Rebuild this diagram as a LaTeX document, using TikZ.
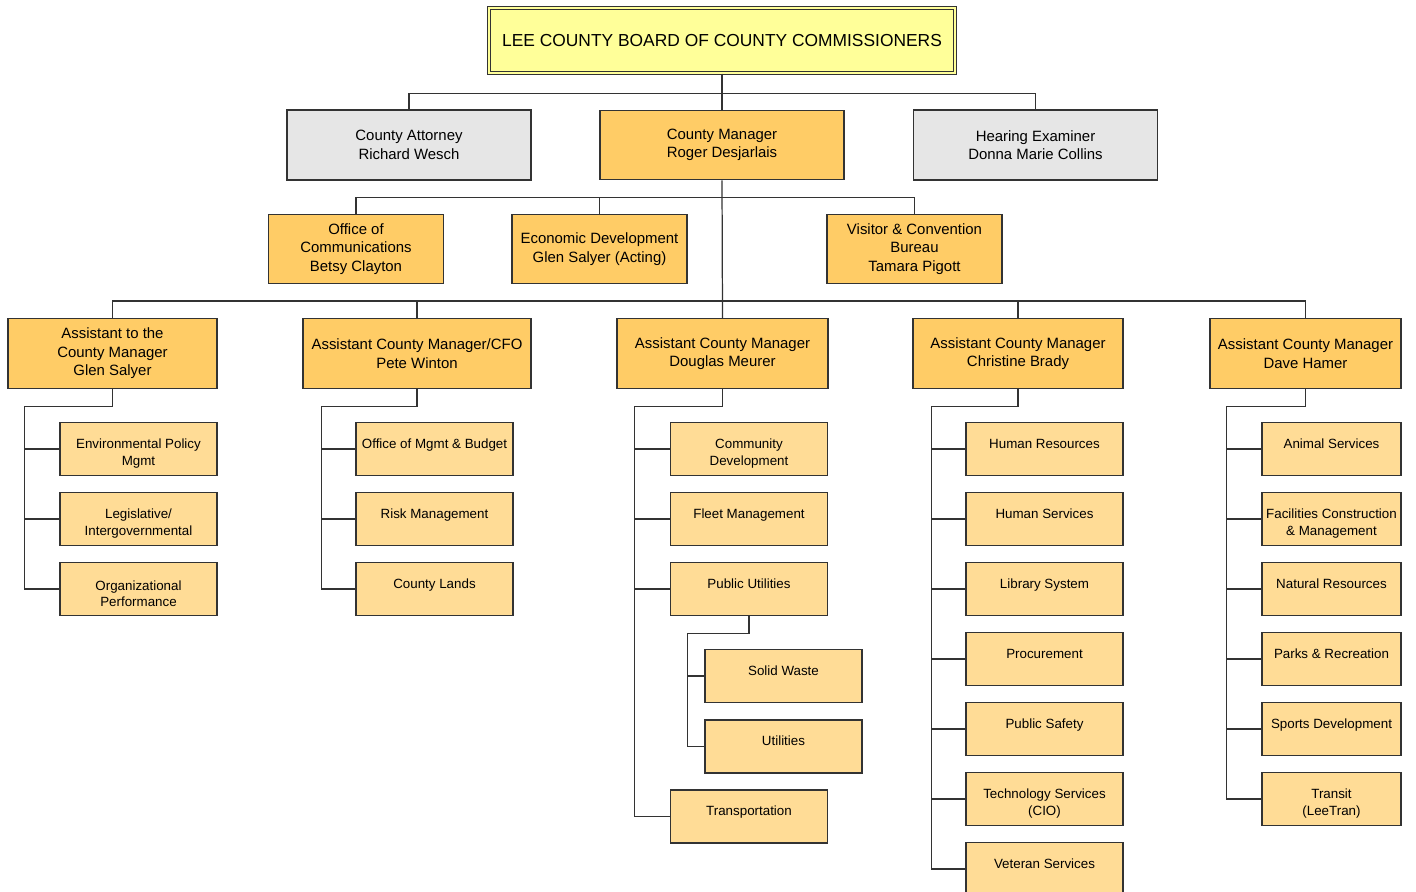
\documentclass[tikz,border=0pt]{standalone}
\usepackage{fontspec}
\setmainfont{Liberation Sans}
\definecolor{titlefill}{HTML}{FFFF99}
\definecolor{headfill}{HTML}{FFCC66}
\definecolor{unitfill}{HTML}{FFDC96}
\definecolor{stafffill}{HTML}{E6E6E6}
\definecolor{edgecol}{HTML}{333333}
\newcommand\dropline{\rule{0pt}{10.6pt}}
\begin{document}
\begin{tikzpicture}
[x=0.02cm,y=-0.02cm,
  boxdecorate/.style={shape=rectangle,draw=edgecol,line width=0.8pt,inner sep=1pt,align=center,font=\fontsize{8.5}{10.6}\selectfont},
  headdecorate/.style={boxdecorate,fill=headfill,minimum height=1.39cm},
  staffdecorate/.style={boxdecorate,fill=stafffill,minimum height=1.4cm,minimum width=4.88cm},
  unitdecorate/.style={boxdecorate,fill=unitfill,minimum height=1.06cm,minimum width=3.14cm,font=\fontsize{7.6}{9.2}\selectfont},
  linedecorate/.style={-,draw=edgecol,line width=0.7pt}]
\useasboundingbox (0,0) rectangle (1416,892);
%% board, staff and county manager
\node (board) at (722,40.5) [boxdecorate,fill=titlefill,line width=0.6pt,double=titlefill,double distance=1.4pt,minimum width=9.32cm,minimum height=1.3cm,font=\fontsize{9.9}{12}\selectfont] {LEE COUNTY BOARD OF COUNTY COMMISSIONERS};
\node (atty) at (409,145) [staffdecorate] {County Attorney\\Richard Wesch};
\node (mgr) at (722,145) [headdecorate,minimum width=4.88cm] {County Manager\\Roger Desjarlais};
\node (hear) at (1035.5,145) [staffdecorate] {Hearing Examiner\\Donna Marie Collins};
%% offices under the county manager
\foreach \nodename/\x/\txt in {comm/356/{Office of\\Communications\\Betsy Clayton},
  econ/599.5/{Economic Development\\Glen Salyer (Acting)},
  visit/914.5/{Visitor \& Convention\\Bureau\\Tamara Pigott}} {
  \node (\nodename) at (\x,249) [headdecorate,minimum width=3.5cm] {\txt};
}
%% assistant county managers
\foreach \nodename/\x/\w/\txt in {acm1/112.5/4.18/{Assistant to the\\County Manager\\Glen Salyer},
  acm2/417/4.56/{Assistant County Manager/CFO\\Pete Winton},
  acm3/722.5/4.22/{Assistant County Manager\\Douglas Meurer},
  acm4/1018/4.2/{Assistant County Manager\\Christine Brady},
  acm5/1305.5/3.82/{Assistant County Manager\\Dave Hamer}} {
  \node (\nodename) at (\x,353.5) [headdecorate,minimum width=\w cm] {\txt};
}
%% departments
\foreach \nodename/\x/\i/\txt in {env/138.5/0/{\dropline Environmental Policy\\Mgmt},
  leg/138.5/1/{\dropline Legislative/\\Intergovernmental},
  org/138.5/2/{\dropline Organizational\\Performance},
  omb/434.5/0/{Office of Mgmt \& Budget\\[-3pt]~},
  risk/434.5/1/{Risk Management\\[-3pt]~},
  lands/434.5/2/{County Lands\\[-3pt]~},
  comdev/749/0/{\dropline Community\\Development},
  fleet/749/1/{Fleet Management\\[-3pt]~},
  pub/749/2/{Public Utilities\\[-3pt]~},
  trans/749/5.25/{Transportation\\[-3pt]~},
  hr/1044.5/0/{Human Resources\\[-3pt]~},
  hs/1044.5/1/{Human Services\\[-3pt]~},
  lib/1044.5/2/{Library System\\[-3pt]~},
  proc/1044.5/3/{Procurement\\[-3pt]~},
  safe/1044.5/4/{Public Safety\\[-3pt]~},
  tech/1044.5/5/{\dropline Technology Services\\(CIO)},
  vet/1044.5/6/{Veteran Services\\[-3pt]~}} {
  \node (\nodename) at (\x,{449+70*\i}) [unitdecorate] {\txt};
}
\foreach \nodename/\i/\txt in {animal/0/{Animal Services\\[-3pt]~},
  fac/1/{\dropline Facilities Construction\\\& Management},
  natural/2/{Natural Resources\\[-3pt]~},
  parks/3/{Parks \& Recreation\\[-3pt]~},
  sports/4/{Sports Development\\[-3pt]~},
  transit/5/{\dropline Transit\\(LeeTran)}} {
  \node (\nodename) at (1331.5,{449+70*\i}) [unitdecorate,minimum width=2.78cm] {\txt};
}
\node (solid) at (783.5,676) [unitdecorate] {Solid Waste\\[-3pt]~};
\node (util) at (783.5,746.5) [unitdecorate] {Utilities\\[-3pt]~};
%% edges or lines
\draw [linedecorate] (board.south) -- (mgr.north);
\draw [linedecorate] (atty.north) -- ++(0,-16) -| (hear.north);
\draw [linedecorate] (mgr.south) -- (acm3.north);
\draw [linedecorate] (comm.north) -- ++(0,-16) -| (visit.north);
\draw [linedecorate] (econ.north) -- ++(0,-16);
\draw [linedecorate] (acm1.north) -- ++(0,-17) -| (acm5.north);
\foreach \nodename in {acm2,acm4} {
  \draw [linedecorate] (\nodename.north) -- ++(0,-17);
}
\foreach \parent/\last/\off in {acm1/org/35, acm2/lands/34, acm3/trans/35,
  acm4/vet/34, acm5/transit/35, pub/util/17} {
  \draw [linedecorate] (\parent.south) -- ++(0,17.5) -| ([xshift=-\off*0.02cm]\last.west) -- (\last.west);
}
\foreach \nodename/\off in {env/35, leg/35, omb/34, risk/34, comdev/35, fleet/35, pub/35,
  hr/34, hs/34, lib/34, proc/34, safe/34, tech/34,
  animal/35, fac/35, natural/35, parks/35, sports/35, solid/17} {
  \draw [linedecorate] (\nodename.west) -- ++(-\off,0);
}
\end{tikzpicture}
\end{document}
